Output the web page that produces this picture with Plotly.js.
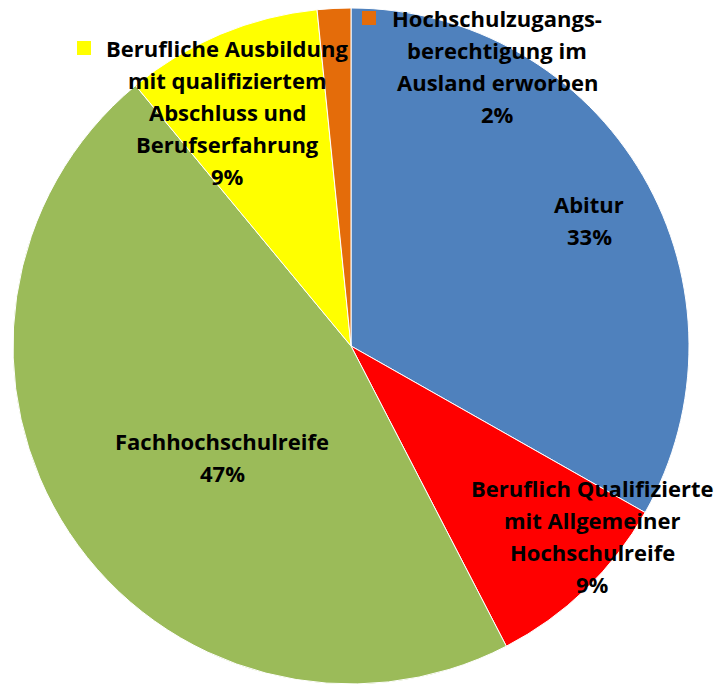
<!DOCTYPE html>
<html>
<head>
<meta charset="utf-8">
<script src="https://cdn.plot.ly/plotly-3.0.1.min.js"></script>
<style>html,body{margin:0;padding:0;background:#fff;}#chart{width:715px;height:684px;}</style>
</head>
<body>
<div id="chart"></div>
<script>
// Data
const categories = [
  "Abitur",
  "Beruflich Qualifizierte mit Allgemeiner Hochschulreife",
  "Fachhochschulreife",
  "Berufliche Ausbildung mit qualifiziertem Abschluss und Berufserfahrung",
  "Hochschulzugangsberechtigung im Ausland erworben"
];
const values = [33.2, 9.2, 46.6, 9.4, 1.6];
const labelLines = [
  ["Abitur"],
  ["Beruflich Qualifizierte", "mit Allgemeiner", "Hochschulreife"],
  ["Fachhochschulreife"],
  ["Berufliche Ausbildung", "mit qualifiziertem", "Abschluss und", "Berufserfahrung"],
  ["Hochschulzugangs-", "berechtigung im", "Ausland erworben"]
];
const colors = ["#4F81BD", "#FF0000", "#9BBB59", "#FFFF00", "#E46C0A"];

// Layout helpers (pixel positions of label blocks)
const W = 715, H = 684;
const labelPos = [
  {x: 589, y: 204},
  {x: 592, y: 488},
  {x: 222, y: 441},
  {x: 227, y: 48},
  {x: 497, y: 18}
];
const lineGap = 32;
const total = values.reduce((a, b) => a + b, 0);

const annotations = [];
labelLines.forEach((lines, i) => {
  const all = lines.concat([Math.round(values[i] / total * 100) + "%"]);
  all.forEach((t, j) => {
    annotations.push({
      xref: "paper", yref: "paper",
      x: labelPos[i].x / W, y: 1 - (labelPos[i].y + j * lineGap) / H,
      xanchor: "center", yanchor: "middle",
      text: "<b>" + t + "</b>", showarrow: false,
      font: {family: "'Open Sans', sans-serif", size: 22, color: "#000"}
    });
  });
});

const shapes = [
  {type: "rect", xref: "paper", yref: "paper", x0: 77 / W, x1: 91 / W, y0: 1 - 55 / H, y1: 1 - 41 / H,
   fillcolor: colors[3], line: {width: 0}},
  {type: "rect", xref: "paper", yref: "paper", x0: 362 / W, x1: 376 / W, y0: 1 - 25 / H, y1: 1 - 11 / H,
   fillcolor: colors[4], line: {width: 0}}
];

const trace = {
  type: "pie",
  labels: categories,
  values: values,
  sort: false,
  direction: "clockwise",
  rotation: 0,
  textinfo: "none",
  hoverinfo: "label+percent",
  marker: {colors: colors, line: {color: "#ffffff", width: 1}},
  domain: {x: [12 / W, 690 / W], y: [0, 676 / H]},
  showlegend: false
};

Plotly.newPlot("chart", [trace], {
  width: W, height: H,
  margin: {l: 0, r: 0, t: 0, b: 0},
  paper_bgcolor: "#ffffff",
  showlegend: false,
  annotations: annotations,
  shapes: shapes
}, {displayModeBar: false, staticPlot: true});
</script>
</body>
</html>
